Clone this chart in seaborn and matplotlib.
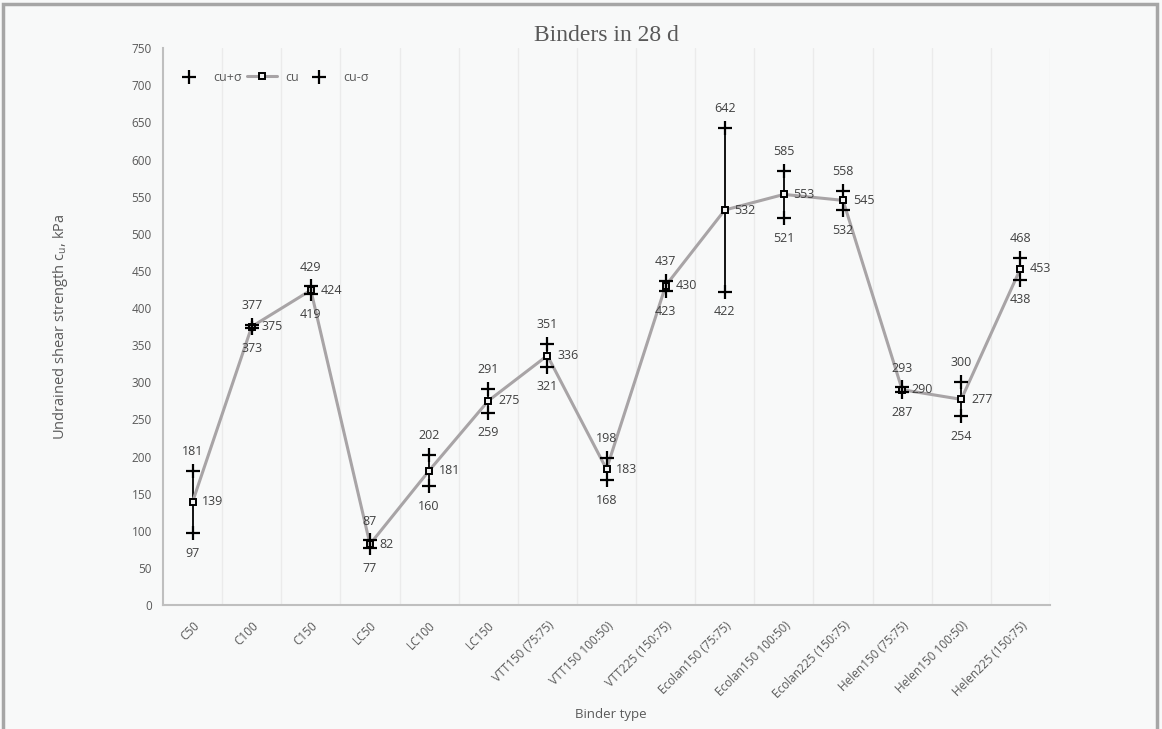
import numpy as np
import pandas as pd
import matplotlib
matplotlib.use("Agg")
import matplotlib.pyplot as plt
import seaborn as sns
from matplotlib.patches import Rectangle
from matplotlib.ticker import MultipleLocator, FixedLocator

binders = ["C50", "C100", "C150", "LC50", "LC100", "LC150", "VTT150 (75:75)",
           "VTT150 100:50)", "VTT225 (150:75)", "Ecolan150 (75:75)",
           "Ecolan150 100:50)", "Ecolan225 (150:75)", "Helen150 (75:75)",
           "Helen150 100:50)", "Helen225 (150:75)"]
cu = [139, 375, 424, 82, 181, 275, 336, 183, 430, 532, 553, 545, 290, 277, 453]
cu_plus = [181, 377, 429, 87, 202, 291, 351, 198, 437, 642, 585, 558, 293, 300, 468]
cu_minus = [97, 373, 419, 77, 160, 259, 321, 168, 423, 422, 521, 532, 287, 254, 438]

sns.set_theme(style="white")
plt.rcParams['font.family'] = ['Open Sans', 'DejaVu Sans']

df = pd.DataFrame({"x": np.arange(len(binders)), "cu": cu,
                   "plus": cu_plus, "minus": cu_minus})

bg = "#f8f9f9"
fig = plt.figure(figsize=(11.62, 7.29), dpi=100, facecolor=bg)
ax = fig.add_axes([0.1403, 0.170, 0.7633, 0.764])
ax.set_facecolor(bg)

# high-low lines
ax.vlines(df["x"], df["minus"], df["plus"], color="black", lw=1.3, zorder=2)

sns.scatterplot(data=df, x="x", y="plus", marker="+", s=90, color="black",
                linewidth=1.6, ax=ax, label="cu+σ", zorder=4)
sns.lineplot(data=df, x="x", y="cu", color="#a8a4a6", lw=2.2, marker="s",
             markersize=4.8, markerfacecolor="#f2f2f2", markeredgecolor="black",
             markeredgewidth=1.4, ax=ax, label="cu", zorder=3)
sns.scatterplot(data=df, x="x", y="minus", marker="+", s=90, color="black",
                linewidth=1.6, ax=ax, label="cu-σ", zorder=4)

lab_kw = dict(textcoords="offset points", fontsize=9, color="#404040", va="center")
for i in range(len(binders)):
    ax.annotate(str(cu_plus[i]), (i, cu_plus[i]), xytext=(0, 14), ha="center", **lab_kw)
    ax.annotate(str(cu_minus[i]), (i, cu_minus[i]), xytext=(0, -14.5), ha="center", **lab_kw)
    ax.annotate(str(cu[i]), (i, cu[i]), xytext=(7, 0), ha="left", **lab_kw)

ax.set_xlim(-0.5, len(binders) - 0.5)
ax.set_ylim(0, 750)
ax.yaxis.set_major_locator(MultipleLocator(50))
ax.set_xticks(df["x"])
ax.set_xticklabels(binders, rotation=45, ha="right", rotation_mode="anchor",
                   fontsize=8.5, color="#595959")
ax.tick_params(axis="x", length=0, pad=10)
ax.tick_params(axis="y", length=0, labelsize=8.5, labelcolor="#595959", pad=8)
ax.xaxis.set_minor_locator(FixedLocator(np.arange(0.5, len(binders), 1.0)))
ax.grid(True, which="minor", axis="x", color="#ebebeb", lw=1)
ax.grid(False, which="major")

for s in ["top", "right"]:
    ax.spines[s].set_visible(False)
for s in ["left", "bottom"]:
    ax.spines[s].set_color("#bfbfbf")
    ax.spines[s].set_linewidth(1.5)

ax.set_xlabel("Binder type", fontsize=9.5, color="#595959")
ax.xaxis.set_label_coords(0.505, -0.185)
ax.set_ylabel("Undrained shear strength c$_\\mathregular{u}$, kPa", fontsize=10.5,
              color="#595959", labelpad=44)

ax.set_title("Binders in 28 d", family="Liberation Serif", fontsize=17,
             color="#595959", pad=5)

ax.legend(loc="upper left", ncol=3, frameon=False, fontsize=9,
          bbox_to_anchor=(0.0, 0.98), handlelength=2.4, columnspacing=0.4,
          handletextpad=0.7, labelcolor="#595959")

fig.patches.append(Rectangle((0.003, -0.05), 0.993, 1.044, transform=fig.transFigure,
                             fill=False, edgecolor="#a6a6a6", lw=2.5))

plt.savefig("out.png", dpi=100, facecolor=bg)
plt.close()
